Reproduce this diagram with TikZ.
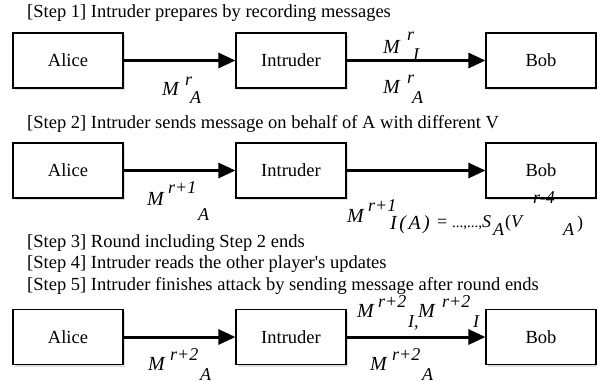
\documentclass[tikz,border=0pt]{standalone}
\usepackage{fontspec}
\setmainfont{Liberation Serif}
\usetikzlibrary{arrows.meta,shadows}
\tikzset{
  ent/.style={draw, line width=1.2pt, fill=white, minimum width=110pt, minimum height=55pt, inner sep=0pt,
    font=\fontsize{18.5}{18.5}\selectfont, drop shadow={opacity=0.25, shadow xshift=2pt, shadow yshift=-2pt}},
  msg/.style={line width=3pt, -{Triangle[length=17pt,width=15pt]}},
  steptxt/.style={anchor=base west, inner sep=0pt, font=\fontsize{18.5}{18.5}\selectfont},
  mm/.style={anchor=base west, inner sep=0pt, font=\fontsize{20}{20}\selectfont\itshape},
  ss/.style={anchor=base west, inner sep=0pt, font=\fontsize{18}{18}\selectfont\itshape},
  nn/.style={anchor=base west, inner sep=0pt, font=\fontsize{18}{18}\selectfont},
  dd/.style={anchor=base west, inner sep=0pt, font=\fontsize{15}{15}\selectfont},
}
\begin{document}
\begin{tikzpicture}[x=1pt,y=-1pt]
\useasboundingbox (0,0) rectangle (597,381);
% step texts
\node[steptxt] (s1) at (27,17) {[Step 1] Intruder prepares by recording messages};
\node[steptxt] (s2) at (27,128) {[Step 2] Intruder sends message on behalf of A with different V};
\node[steptxt] (s3) at (27,247) {[Step 3] Round including Step 2 ends};
\node[steptxt] (s4) at (27,268) {[Step 4] Intruder reads the other player\textquotesingle s updates};
\node[steptxt] (s5) at (27,290) {[Step 5] Intruder finishes attack by sending message after round ends};
% row 1
\node[ent] (a1) at (68,60.5) {Alice};
\node[ent] (i1) at (291,60.5) {Intruder};
\node[ent] (b1) at (541,60.5) {Bob};
\draw[msg] (a1) -- (i1);
\draw[msg] (i1) -- (b1);
\node[mm] (l1m) at (162,95) {M};
\node[ss] (l1s) at (185,85) {r};
\node[ss] (l1b) at (190,103) {A};
\node[mm] (l2m) at (383,53) {M};
\node[ss] (l2s) at (407,40) {r};
\node[ss] (l2b) at (413,60) {I};
\node[mm] (l3m) at (383,93) {M};
\node[ss] (l3s) at (407,83) {r};
\node[ss] (l3b) at (412,103) {A};
% row 2
\node[ent] (a2) at (68,170.5) {Alice};
\node[ent] (i2) at (291,170.5) {Intruder};
\node[ent] (b2) at (541,170.5) {Bob};
\draw[msg] (a2) -- (i2);
\draw[msg] (i2) -- (b2);
\node[mm] (l4m) at (147,205) {M};
\node[ss] (l4s) at (168,193) {r+1};
\node[ss] (l4b) at (198,220) {A};
\node[mm] (l5m) at (347,222) {M};
\node[ss] (l5s) at (368,211) {r+1};
\node[ss, font=\fontsize{20}{20}\selectfont\itshape] (l5b) at (390,229) {I\hspace{2.5pt}(\hspace{2.5pt}A\hspace{2.5pt})};
\node[nn] (l5e) at (437,227) {=};
\node[dd] (l5d) at (452,227) {...,...,};
\node[ss] (l5s2) at (482,227) {S};
\node[ss] (l5a) at (493,235) {A};
\node[nn] (l5p) at (505,227) {(\textit{V}};
\node[ss] (l5r) at (533,203) {r-4};
\node[ss] (l5c) at (563,235) {A};
\node[nn] (l5q) at (577,228) {)};
% row 3
\node[ent] (a3) at (68,337) {Alice};
\node[ent] (i3) at (291,337) {Intruder};
\node[ent] (b3) at (541,337) {Bob};
\draw[msg] (a3) -- (i3);
\draw[msg] (i3) -- (b3);
\node[mm] (l6m) at (148,370) {M};
\node[ss] (l6s) at (170,360) {r+2};
\node[ss] (l6b) at (200,380) {A};
\node[mm] (l7m) at (357,317) {M};
\node[ss] (l7s) at (378,307) {r+2};
\node[ss] (l7b) at (408,327) {I,};
\node[mm] (l7n) at (418,317) {M};
\node[ss] (l7t) at (442,307) {r+2};
\node[ss] (l7c) at (473,327) {I};
\node[mm] (l8m) at (370,370) {M};
\node[ss] (l8s) at (392,360) {r+2};
\node[ss] (l8b) at (422,380) {A};
\end{tikzpicture}
\end{document}
